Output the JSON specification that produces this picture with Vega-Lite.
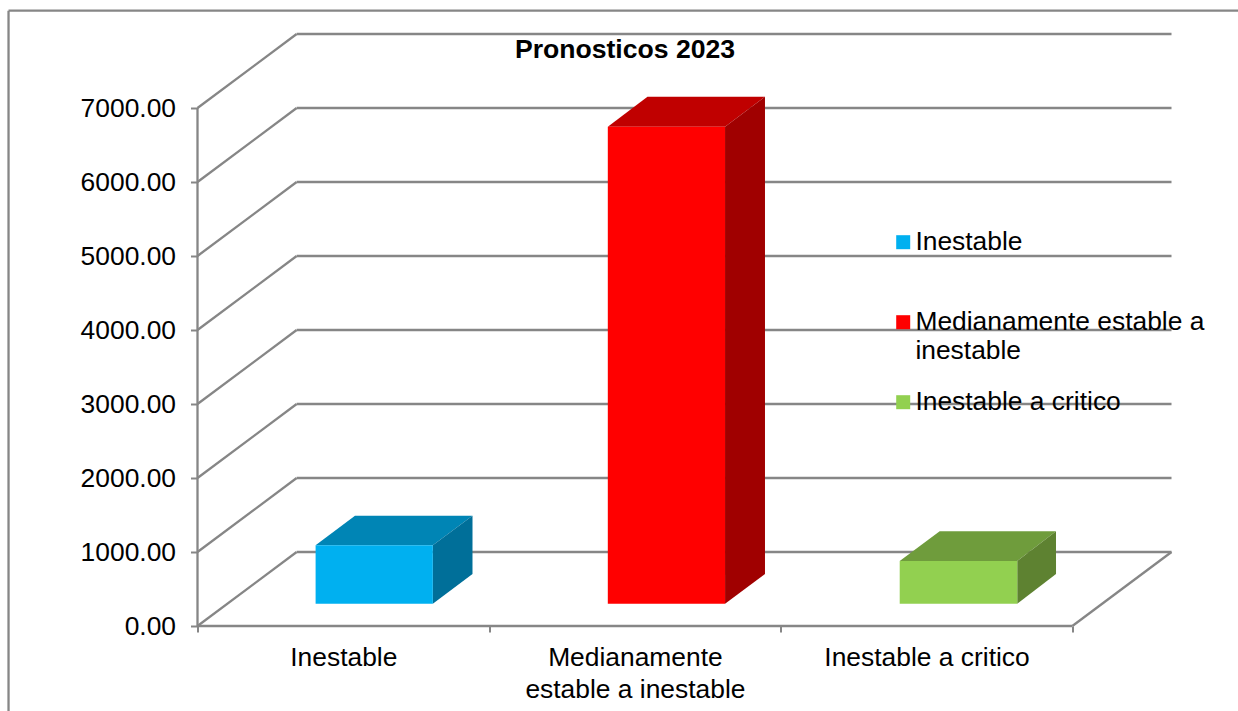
{
  "$schema": "https://vega.github.io/schema/vega-lite/v6.json",
  "width": 974,
  "height": 592,
  "autosize": "none",
  "padding": {"left": 197.5, "top": 34, "right": 66.5, "bottom": 85},
  "background": "white",
  "title": {"text": "Pronosticos 2023", "font": "Liberation Sans", "fontSize": 26.6, "fontWeight": "bold", "color": "#000000", "anchor": "middle", "frame": "group", "dx": -59.5, "offset": -54},
  "config": {"view": {"stroke": null}, "font": "Liberation Sans"},
  "datasets": {
    "lines": [
      {"x0": 0, "x1": 0, "y0": 0, "y1": 7000},
      {"x0": 0, "x1": 3, "y0": 0, "y1": 0},
      {"x0": 3, "x1": 3.34, "y0": 0, "y1": 1000},
      {"x0": 0, "x1": 0.34, "y0": 0, "y1": 1000},
      {"x0": 0, "x1": 0.34, "y0": 1000, "y1": 2000},
      {"x0": 0, "x1": 0.34, "y0": 2000, "y1": 3000},
      {"x0": 0, "x1": 0.34, "y0": 3000, "y1": 4000},
      {"x0": 0, "x1": 0.34, "y0": 4000, "y1": 5000},
      {"x0": 0, "x1": 0.34, "y0": 5000, "y1": 6000},
      {"x0": 0, "x1": 0.34, "y0": 6000, "y1": 7000},
      {"x0": 0, "x1": 0.34, "y0": 7000, "y1": 8000},
      {"x0": 0.34, "x1": 3.34, "y0": 1000, "y1": 1000},
      {"x0": 0.34, "x1": 3.34, "y0": 2000, "y1": 2000},
      {"x0": 0.34, "x1": 3.34, "y0": 3000, "y1": 3000},
      {"x0": 0.34, "x1": 3.34, "y0": 4000, "y1": 4000},
      {"x0": 0.34, "x1": 3.34, "y0": 5000, "y1": 5000},
      {"x0": 0.34, "x1": 3.34, "y0": 6000, "y1": 6000},
      {"x0": 0.34, "x1": 3.34, "y0": 7000, "y1": 7000},
      {"x0": 0.34, "x1": 3.34, "y0": 8000, "y1": 8000}
    ],
    "border": [
      {"x0": -0.648, "x1": -0.648, "y0": -1200, "y1": 8315},
      {"x0": -0.648, "x1": 3.6, "y0": 8315, "y1": 8315}
    ],
    "front": [
      {"cat": "Inestable", "x": 0.405, "y": 1090, "y2": 301},
      {"cat": "Inestable", "x": 0.807, "y": 1090, "y2": 301},
      {"cat": "Medianamente estable a inestable", "x": 1.407, "y": 6746, "y2": 301},
      {"cat": "Medianamente estable a inestable", "x": 1.809, "y": 6746, "y2": 301},
      {"cat": "Inestable a critico", "x": 2.408, "y": 878, "y2": 301},
      {"cat": "Inestable a critico", "x": 2.811, "y": 878, "y2": 301}
    ],
    "top": [
      {"cat": "Inestable", "x": 0.405, "y": 1090, "y2": 1090},
      {"cat": "Inestable", "x": 0.54, "y": 1490, "y2": 1090},
      {"cat": "Inestable", "x": 0.807, "y": 1490, "y2": 1090},
      {"cat": "Inestable", "x": 0.943, "y": 1490, "y2": 1490},
      {"cat": "Medianamente estable a inestable", "x": 1.407, "y": 6746, "y2": 6746},
      {"cat": "Medianamente estable a inestable", "x": 1.543, "y": 7152, "y2": 6746},
      {"cat": "Medianamente estable a inestable", "x": 1.809, "y": 7152, "y2": 6746},
      {"cat": "Medianamente estable a inestable", "x": 1.946, "y": 7152, "y2": 7152},
      {"cat": "Inestable a critico", "x": 2.408, "y": 878, "y2": 878},
      {"cat": "Inestable a critico", "x": 2.545, "y": 1280, "y2": 878},
      {"cat": "Inestable a critico", "x": 2.811, "y": 1280, "y2": 878},
      {"cat": "Inestable a critico", "x": 2.944, "y": 1280, "y2": 1280}
    ],
    "side": [
      {"cat": "Inestable", "x": 0.807, "y": 1090, "y2": 301},
      {"cat": "Inestable", "x": 0.943, "y": 1490, "y2": 703},
      {"cat": "Medianamente estable a inestable", "x": 1.809, "y": 6746, "y2": 301},
      {"cat": "Medianamente estable a inestable", "x": 1.946, "y": 7152, "y2": 703},
      {"cat": "Inestable a critico", "x": 2.811, "y": 878, "y2": 301},
      {"cat": "Inestable a critico", "x": 2.944, "y": 1280, "y2": 703}
    ]
  },
  "resolve": {"scale": {"color": "independent"}},
  "layer": [
    {
      "data": {"name": "border"},
      "mark": {"type": "rule", "color": "#868686", "strokeWidth": 2.3, "clip": false},
      "encoding": {
        "x": {"field": "x0", "type": "quantitative", "scale": {"domain": [0, 3.34], "nice": false, "zero": false},
          "axis": {"values": [0, 0.5, 1, 1.5, 2, 2.5, 3], "title": null, "domain": false, "grid": false, "tickSize": 6, "tickWidth": 2, "tickColor": "#868686", "tickOpacity": {"condition": {"test": "datum.value % 1 === 0", "value": 1}, "value": 0}, "labelExpr": "datum.value === 0.5 ? 'Inestable' : datum.value === 1.5 ? ['Medianamente', 'estable a inestable'] : datum.value === 2.5 ? 'Inestable a critico' : ''", "labelFont": "Liberation Sans", "labelFontSize": 26.4, "labelColor": "#000000", "labelPadding": 12, "labelLineHeight": 32, "labelLimit": 500, "labelFlush": false, "labelOverlap": false, "labelBound": false}},
        "x2": {"field": "x1"},
        "y": {"field": "y0", "type": "quantitative", "scale": {"domain": [0, 8000], "nice": false, "zero": false},
          "axis": {"values": [0, 1000, 2000, 3000, 4000, 5000, 6000, 7000], "format": ".2f", "title": null, "domain": false, "grid": false, "tickSize": 7, "tickWidth": 2, "tickColor": "#868686", "labelFont": "Liberation Sans", "labelFontSize": 26.4, "labelColor": "#000000", "labelPadding": 15, "labelOverlap": false, "labelBound": false}},
        "y2": {"field": "y1"}
      }
    },
    {
      "data": {"name": "lines"},
      "mark": {"type": "rule", "color": "#868686", "strokeWidth": 2.3},
      "encoding": {
        "x": {"field": "x0", "type": "quantitative"},
        "x2": {"field": "x1"},
        "y": {"field": "y0", "type": "quantitative"},
        "y2": {"field": "y1"}
      }
    },
    {
      "data": {"name": "top"},
      "mark": {"type": "area", "interpolate": "linear"},
      "encoding": {
        "x": {"field": "x", "type": "quantitative"},
        "y": {"field": "y", "type": "quantitative"},
        "y2": {"field": "y2"},
        "color": {"field": "cat", "type": "nominal", "legend": null, "scale": {"domain": ["Inestable", "Medianamente estable a inestable", "Inestable a critico"], "range": ["#0085B5", "#C00000", "#6F9C3C"]}}
      }
    },
    {
      "data": {"name": "side"},
      "mark": {"type": "area", "interpolate": "linear"},
      "encoding": {
        "x": {"field": "x", "type": "quantitative"},
        "y": {"field": "y", "type": "quantitative"},
        "y2": {"field": "y2"},
        "color": {"field": "cat", "type": "nominal", "legend": null, "scale": {"domain": ["Inestable", "Medianamente estable a inestable", "Inestable a critico"], "range": ["#006F99", "#A00000", "#5E8231"]}}
      }
    },
    {
      "data": {"name": "front"},
      "mark": {"type": "area", "interpolate": "linear", "opacity": 1},
      "encoding": {
        "x": {"field": "x", "type": "quantitative"},
        "y": {"field": "y", "type": "quantitative"},
        "y2": {"field": "y2"},
        "color": {"field": "cat", "type": "nominal", "scale": {"domain": ["Inestable", "Medianamente estable a inestable", "Inestable a critico"], "range": ["#00B0F0", "#FF0000", "#92D050"]},
          "legend": {"orient": "none", "legendX": 692.5, "legendY": 195, "title": null, "symbolType": "square", "symbolSize": 196, "symbolStrokeWidth": 0, "symbolOpacity": 1, "labelFont": "Liberation Sans", "labelFontSize": 26.4, "labelColor": "#000000", "labelLimit": 500, "labelOffset": -1, "rowPadding": 25, "gridAlign": "all", "labelExpr": "datum.label === 'Medianamente estable a inestable' ? ['Medianamente estable a', 'inestable'] : datum.label"}}
      }
    }
  ]
}
